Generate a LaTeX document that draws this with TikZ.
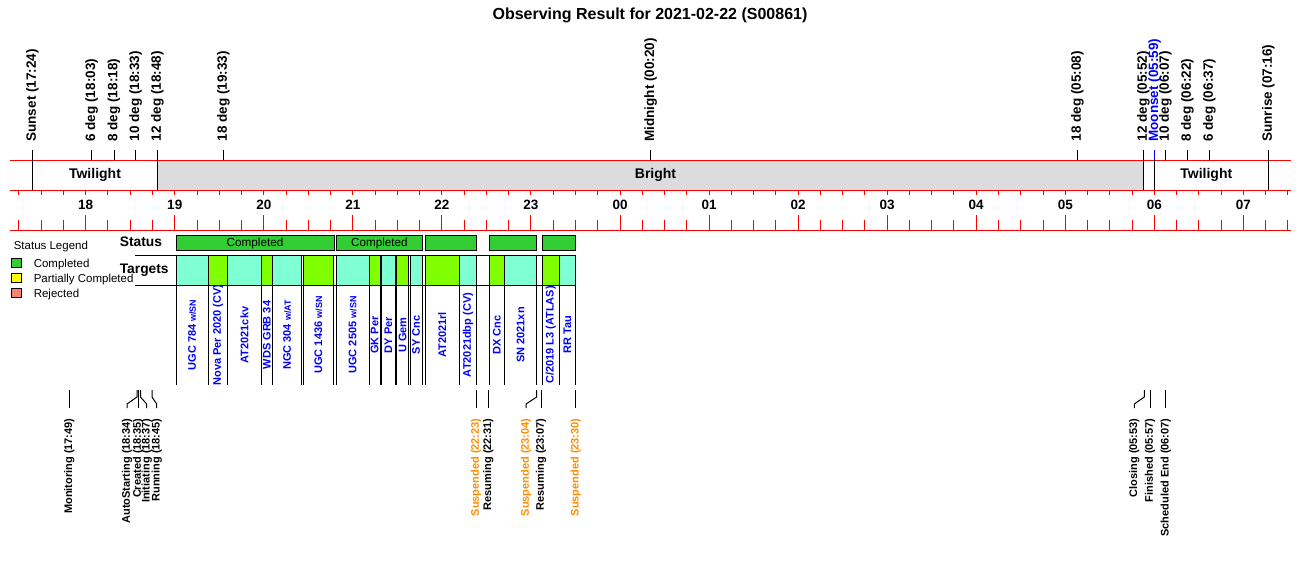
\documentclass[tikz,border=0pt]{standalone}
\usepackage{fontspec}
\setmainfont{Liberation Sans}
\definecolor{cgreen}{HTML}{32CD32}
\definecolor{caqua}{HTML}{7FFFD4}
\definecolor{cchart}{HTML}{7FFF00}
\definecolor{csalmon}{HTML}{FA8072}
\definecolor{cyel}{HTML}{FFFF00}
\definecolor{cgray}{HTML}{DCDCDC}
\definecolor{corange}{HTML}{FF8C00}
\definecolor{cblue}{HTML}{0000FF}
\newcommand{\sm}[1]{{\fontsize{9}{9}\selectfont #1}}
\begin{document}
\begin{tikzpicture}[x=1pt,y=-1pt,line width=1pt,
  toplbl/.style={rotate=90,anchor=west,inner sep=0pt,font=\fontsize{13.5}{14}\selectfont\bfseries},
  botlbl/.style={rotate=90,anchor=east,inner sep=0pt,font=\fontsize{11}{12}\selectfont\bfseries},
  tgtlbl/.style={rotate=90,inner sep=0pt,text=cblue,font=\fontsize{11}{12}\selectfont\bfseries},
  hourlbl/.style={inner sep=0pt,font=\fontsize{13.5}{14}\selectfont\bfseries},
  bandlbl/.style={inner sep=0pt,font=\fontsize{14}{14}\selectfont\bfseries},
  leglbl/.style={anchor=base west,inner sep=0pt,font=\fontsize{11.5}{12}\selectfont},
  rowlbl/.style={anchor=base west,inner sep=0pt,font=\fontsize{13.8}{14}\selectfont\bfseries},
  redline/.style={draw=red,line width=1pt},
  cellbox/.style={draw=black,line width=1pt}]
\useasboundingbox (0,0) rectangle (1300,560);

% title
\node[inner sep=0pt,font=\fontsize{16}{16}\selectfont\bfseries] (title) at (650,15) {Observing Result for 2021-02-22 (S00861)};

% band
\fill[cgray] (157.3,160) rectangle (1143.3,190);
\draw[redline] (10,160) -- (1291,160);
\draw[redline] (10,190) -- (1291,190);
\draw[redline] (10,230) -- (1291,230);

% quarter-hour ticks
\foreach \i in {0,...,57}{
  \pgfmathsetmacro{\tx}{620+89.05*(-6.75+0.25*\i)}
  \draw[red] (\tx,190) -- (\tx,195);
  \pgfmathtruncatemacro{\hm}{mod(\i,4)}
  \ifnum\hm=3
    \draw[red] (\tx,230) -- (\tx,215);
  \else
    \draw[red] (\tx,230) -- (\tx,220);
  \fi
}
% hour labels
\foreach \h/\lab [count=\k] in {-6/18,-5/19,-4/20,-3/21,-2/22,-1/23,0/00,1/01,2/02,3/03,4/04,5/05,6/06,7/07}{
  \node[hourlbl] (hr\k) at ({620+89.05*\h},205) {\lab};
}

% band labels
\node[bandlbl] (tw1) at (95,175) {Twilight};
\node[bandlbl] (bright) at (655.5,175) {Bright};
\node[bandlbl] (tw2) at (1206.3,175) {Twilight};

% top events: x / label / through band
\foreach \x/\lab/\full [count=\k] in {32.5/Sunset (17:24)/1, 91.7/6 deg (18:03)/0, 114/8 deg (18:18)/0, 135.7/10 deg (18:33)/0, 157.3/12 deg (18:48)/1, 223.3/18 deg (19:33)/0, 650.7/Midnight (00:20)/0, 1077.3/18 deg (05:08)/0, 1143.3/12 deg (05:52)/1, 1165.3/10 deg (06:07)/0, 1187.3/8 deg (06:22)/0, 1209.3/6 deg (06:37)/0, 1268.3/Sunrise (07:16)/1}{
  \node[toplbl] (ev\k) at (\x,142) {\lab};
  \ifnum\full=1
    \draw (\x,150) -- (\x,190);
  \else
    \draw (\x,150) -- (\x,160);
  \fi
}
\node[toplbl,text=cblue] (moonset) at (1154.7,142) {Moonset (05:59)};
\draw[cblue] (1154.7,150) -- (1154.7,160);
\draw (1154.7,160) -- (1154.7,190);

% legend
\node[leglbl] (legtitle) at (13.3,249.5) {Status Legend};
\draw[fill=cgreen] (11.7,258.3) rectangle (21.7,267.3);
\draw[fill=cyel] (11.7,273.3) rectangle (21.7,282.3);
\draw[fill=csalmon] (11.7,288.3) rectangle (21.7,297.3);
\node[leglbl] (legc) at (33.3,267.3) {Completed};
\node[leglbl] (legp) at (33.3,282.5) {Partially Completed};
\node[leglbl] (legr) at (33.3,297.3) {Rejected};

% row labels
\node[rowlbl] (status) at (119.3,246.3) {Status};
\node[rowlbl] (targets) at (119.3,273.3) {Targets};

% status bar
\foreach \a/\b/\lab [count=\k] in {176/334/Completed, 336/422.7/Completed, 425/476.3/, 489.3/536.7/, 542.3/575.7/}{
  \draw[cellbox,fill=cgreen] (\a,235.7) rectangle (\b,250);
  \node[inner sep=0pt,anchor=base,font=\fontsize{11.7}{12}\selectfont] (st\k) at ({(\a+\b)/2},246) {\lab};
}

% target row outline
\draw (135,255.7) -- (575.7,255.7);
\draw (135,285) -- (575.7,285);
\foreach \a/\b/\c/\lab [count=\k] in {
 176/208.3/caqua/{UGC 784 \sm{w/SN}},
 208.3/227.7/cchart/{Nova Per 2020 (CV)},
 227.7/261/caqua/{AT2021ckv},
 261/272.7/cchart/{WDS GRB 34},
 272.7/301.7/caqua/{NGC 304 \sm{w/AT}},
 303.3/333.3/cchart/{UGC 1436 \sm{w/SN}},
 336/369.3/caqua/{UGC 2505 \sm{w/SN}},
 369.3/380/cchart/{GK Per},
 381.7/395/caqua/{DY Per},
 396.7/408.3/cchart/{U Gem},
 410/422.3/caqua/{SY Cnc},
 425/459.3/cchart/{AT2021rl},
 459.3/476.7/caqua/{AT2021dbp (CV)},
 489.3/504.3/cchart/{DX Cnc},
 504.3/536.7/caqua/{SN 2021xn},
 542.3/559.3/cchart/{C/2019 L3 (ATLAS)},
 559.3/575.7/caqua/{RR Tau}}{
  \draw[cellbox,fill=\c] (\a,255.7) rectangle (\b,285);
  \draw (\a,285) -- (\a,385);
  \draw (\b,285) -- (\b,385);
  \begin{scope}
    \clip (\a,285.5) rectangle (\b,385);
    \node[tgtlbl] (tg\k) at ({(\a+\b)/2},335) {\lab};
  \end{scope}
}

% bottom events
\foreach \x/\lab/\col [count=\k] in {69.3/Monitoring (17:49)/black, 138/Created (18:35)/black, 476/Suspended (22:23)/corange, 488.3/Resuming (22:31)/black, 541/Resuming (23:07)/black, 575.7/Suspended (23:30)/corange, 1150/Finished (05:57)/black, 1165.7/Scheduled End (06:07)/black}{
  \draw (\x,390) -- (\x,408);
  \node[botlbl,text=\col] (bv\k) at (\x,418) {\lab};
}
\foreach \x/\lx/\lab/\col [count=\k] in {137/127/AutoStarting (18:34)/black, 140.5/146.7/Initiating (18:37)/black, 152/156.7/Running (18:45)/black, 536.7/526/Suspended (23:04)/corange, 1144.3/1134.3/Closing (05:53)/black}{
  \draw (\x,390) -- (\x,397) -- (\lx,404) -- (\lx,408);
  \node[botlbl,text=\col] (bs\k) at (\lx,418) {\lab};
}
\end{tikzpicture}
\end{document}
